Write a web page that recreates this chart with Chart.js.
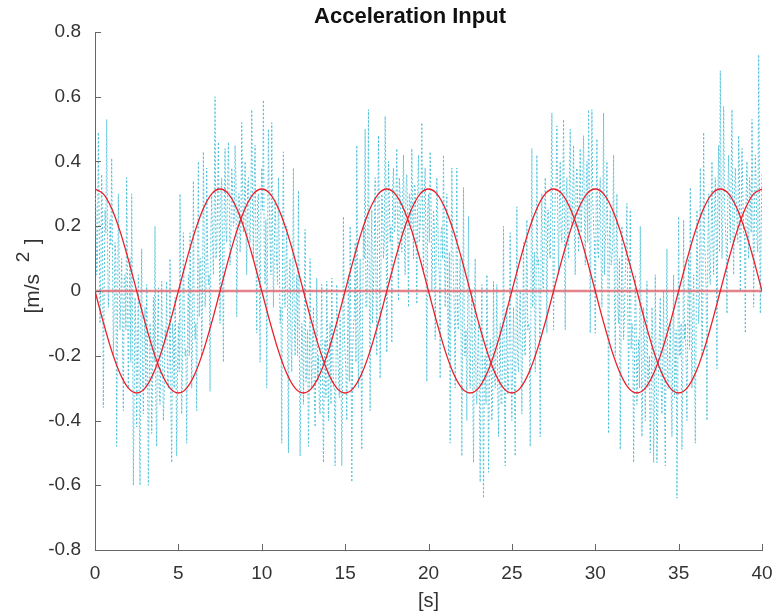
<!DOCTYPE html>
<html>
<head>
<meta charset="utf-8">
<title>Acceleration Input</title>
<script src="https://cdn.jsdelivr.net/npm/chart.js@4.4.1/dist/chart.umd.min.js"></script>
<style>
    html, body { margin: 0; padding: 0; background: #ffffff; }
    #wrap { width: 772px; height: 616px; }
</style>
</head>
<body>
<div id="wrap"><canvas id="accelChart" width="772" height="616"></canvas></div>
<script>
// Sample spacing of the recorded input and of the reference sinusoids [s]
const SAMPLE_DT = 0.05;
const CURVE_DT = 0.5;

// Axis ticks
const xTickValues = [0, 5, 10, 15, 20, 25, 30, 35, 40];
const yTickValues = [-0.8, -0.6, -0.4, -0.2, 0, 0.2, 0.4, 0.6, 0.8];

// Measured (noisy) acceleration input [m/s^2], one row per second
const measuredAccel = [
    0.30, 0.26, 0.05, 0.10, 0.49, 0.22, -0.10, 0.05, 0.36, 0.20, -0.36, 0.00, 0.25, 0.18, 0.53, 0.15, -0.05, 0.02, 0.22, 0.14,
    0.41, 0.12, -0.20, -0.05, 0.15, 0.10, -0.48, -0.10, 0.30, 0.08, -0.12, -0.02, 0.10, -0.15, -0.37, 0.04, 0.05, -0.12, 0.35, 0.00,
    -0.30, -0.05, 0.10, -0.22, 0.30, -0.08, -0.60, -0.30, -0.02, -0.12, -0.42, -0.20, 0.05, -0.35, -0.60, -0.10, 0.13, -0.25, -0.38, -0.15,
    -0.05, -0.30, 0.02, -0.18, -0.60, -0.32, -0.10, -0.15, -0.44, -0.28, -0.02, -0.22, 0.20, -0.35, -0.48, -0.12, 0.01, -0.30, -0.35, -0.20,
    0.03, -0.18, -0.40, -0.32, -0.12, -0.15, 0.03, -0.28, -0.30, -0.22, 0.10, -0.35, -0.53, -0.10, -0.15, -0.30, -0.02, -0.18, -0.51, -0.25,
    -0.10, -0.25, 0.30, -0.10, -0.38, -0.22, 0.18, -0.05, -0.20, -0.18, -0.47, -0.12, 0.05, -0.20, 0.18, -0.02, -0.30, -0.15, 0.34, -0.08,
    -0.15, -0.10, -0.37, 0.05, 0.40, -0.08, 0.10, 0.10, -0.20, -0.02, 0.43, 0.15, -0.05, 0.00, 0.38, 0.12, 0.02, 0.05, -0.31, 0.18,
    0.30, 0.15, 0.05, 0.25, 0.60, 0.10, 0.12, 0.28, 0.46, 0.18, -0.10, 0.30, 0.35, 0.12, -0.22, 0.25, 0.44, 0.20, 0.15, 0.32,
    0.46, 0.28, 0.08, 0.18, 0.38, 0.32, 0.20, 0.22, 0.45, 0.35, -0.08, 0.15, 0.30, 0.30, 0.12, 0.20, 0.52, 0.33, 0.18, 0.25,
    0.40, 0.20, 0.05, 0.32, 0.35, 0.18, 0.15, 0.30, 0.56, 0.25, 0.10, 0.35, 0.45, 0.15, -0.13, 0.28, 0.30, 0.12, -0.22, 0.25,
    0.38, 0.25, 0.59, 0.10, 0.02, 0.22, -0.30, 0.15, 0.50, 0.28, 0.15, 0.05, 0.52, 0.20, -0.05, 0.12, 0.28, 0.18, 0.08, 0.02,
    0.35, 0.12, -0.10, -0.05, -0.47, 0.15, 0.43, -0.02, -0.05, 0.08, 0.20, -0.10, -0.50, 0.05, 0.10, -0.15, -0.25, 0.02, 0.38, -0.08,
    -0.20, -0.05, 0.05, -0.20, 0.31, -0.10, -0.51, -0.25, -0.10, -0.15, -0.35, -0.08, 0.19, -0.28, -0.25, -0.12, -0.48, -0.30, 0.10, -0.18,
    -0.30, -0.15, -0.05, -0.32, -0.42, -0.18, 0.04, -0.28, -0.20, -0.35, -0.38, -0.15, 0.02, -0.30, -0.53, -0.22, -0.15, -0.33, 0.03, -0.18,
    -0.40, -0.20, -0.10, -0.35, 0.04, -0.15, -0.30, -0.30, -0.54, -0.25, 0.02, -0.18, -0.25, -0.33, -0.08, -0.22, -0.54, -0.28, 0.23, -0.12,
    -0.20, -0.25, -0.40, -0.12, 0.05, -0.28, 0.20, -0.15, -0.59, -0.20, -0.10, -0.08, 0.15, -0.22, 0.45, -0.05, -0.30, -0.12, 0.10, -0.18,
    -0.49, -0.08, 0.20, 0.10, 0.50, -0.05, -0.05, 0.12, 0.56, 0.00, -0.37, 0.08, 0.25, -0.10, 0.02, 0.15, 0.35, 0.02, -0.20, 0.18,
    0.48, 0.22, -0.27, 0.08, 0.30, 0.25, 0.10, 0.15, 0.54, 0.30, -0.19, 0.12, 0.40, 0.28, 0.15, 0.20, -0.16, 0.32, 0.38, 0.18,
    0.20, 0.30, 0.44, 0.18, -0.03, 0.35, 0.30, 0.20, 0.12, 0.28, 0.42, 0.15, 0.05, 0.32, 0.36, 0.22, -0.05, 0.30, 0.28, 0.20,
    0.44, 0.25, 0.10, 0.33, 0.32, 0.20, -0.04, 0.30, 0.42, 0.15, 0.20, 0.28, 0.52, 0.22, 0.05, 0.30, 0.38, 0.12, -0.28, 0.25,
    0.30, 0.15, 0.43, 0.28, 0.00, 0.12, 0.25, 0.20, -0.15, 0.08, 0.35, 0.25, 0.10, 0.05, -0.27, 0.18, 0.20, 0.10, 0.42, 0.15,
    -0.05, 0.10, 0.30, -0.05, -0.20, 0.12, -0.47, 0.02, 0.38, 0.15, 0.05, -0.08, -0.30, 0.05, 0.38, -0.10, -0.12, 0.00, 0.10, -0.12,
    -0.51, -0.08, 0.32, -0.20, -0.20, -0.12, -0.40, -0.05, 0.23, -0.25, -0.30, -0.10, 0.00, -0.28, -0.53, -0.15, 0.10, -0.30, -0.35, -0.20,
    -0.10, -0.32, -0.59, -0.18, 0.02, -0.30, -0.64, -0.22, -0.20, -0.35, 0.05, -0.15, -0.56, -0.28, -0.15, -0.20, -0.40, -0.32, 0.03, -0.25,
    -0.30, -0.18, 0.02, -0.30, -0.45, -0.22, -0.10, -0.35, -0.35, -0.15, 0.20, -0.28, -0.54, -0.20, -0.05, -0.32, -0.30, -0.12, 0.18, -0.25,
    -0.40, -0.20, -0.05, -0.28, -0.51, -0.12, 0.26, -0.22, -0.25, -0.08, 0.00, -0.20, -0.38, -0.10, 0.15, -0.18, -0.20, -0.02, 0.22, -0.12,
    -0.10, -0.12, -0.48, 0.05, 0.44, -0.05, 0.05, 0.12, -0.25, 0.00, 0.42, 0.08, 0.10, -0.08, -0.45, 0.15, 0.30, 0.02, 0.00, 0.20,
    0.35, 0.18, -0.13, 0.25, 0.25, 0.12, 0.10, 0.30, 0.55, 0.20, -0.12, 0.15, 0.30, 0.32, 0.51, 0.22, 0.05, 0.28, 0.40, 0.18,
    0.15, 0.30, 0.53, 0.20, -0.12, 0.28, 0.35, 0.15, 0.10, 0.35, 0.50, 0.22, 0.20, 0.30, 0.45, 0.18, 0.05, 0.33, 0.38, 0.25,
    0.12, 0.28, 0.44, 0.18, 0.25, 0.35, 0.48, 0.22, 0.08, 0.30, 0.40, 0.15, 0.56, 0.32, -0.13, 0.25, 0.56, 0.28, 0.20, 0.15,
    -0.13, 0.25, 0.47, 0.12, 0.10, 0.28, 0.35, 0.10, -0.05, 0.22, 0.55, 0.05, 0.15, 0.20, 0.40, 0.15, -0.44, 0.18, 0.25, 0.08,
    0.10, 0.15, 0.42, 0.00, -0.20, 0.12, 0.30, -0.05, -0.10, 0.10, -0.49, -0.12, 0.20, 0.05, -0.15, -0.08, 0.05, 0.12, 0.27, -0.05,
    -0.30, -0.05, 0.25, -0.18, -0.10, -0.12, -0.53, -0.25, 0.05, -0.08, -0.35, -0.22, -0.15, -0.30, 0.20, -0.10, -0.45, -0.28, -0.05, -0.15,
    -0.40, -0.18, 0.03, -0.30, -0.25, -0.20, -0.50, -0.35, -0.05, -0.15, -0.53, -0.32, 0.05, -0.25, -0.53, -0.38, -0.20, -0.12, -0.02, -0.30,
    -0.38, -0.22, 0.00, -0.35, -0.54, -0.15, 0.13, -0.30, -0.30, -0.20, -0.10, -0.28, -0.45, -0.18, 0.05, -0.33, -0.25, -0.12, -0.64, -0.28,
    0.23, -0.20, -0.20, -0.10, -0.49, -0.25, 0.22, -0.15, -0.10, -0.22, -0.40, -0.05, 0.10, -0.18, 0.32, -0.12, -0.30, -0.08, 0.05, -0.20,
    -0.47, -0.10, 0.25, 0.05, -0.10, -0.02, 0.38, 0.10, -0.20, -0.05, 0.49, 0.15, 0.10, 0.00, -0.40, 0.12, 0.30, 0.05, 0.02, 0.18,
    0.40, 0.15, 0.05, 0.25, 0.35, 0.18, -0.24, 0.30, 0.45, 0.12, 0.68, 0.32, 0.10, 0.22, 0.57, 0.28, 0.20, 0.15, -0.07, 0.30,
    0.42, 0.25, 0.15, 0.35, 0.56, 0.20, 0.05, 0.30, 0.38, 0.28, 0.22, 0.15, 0.48, 0.33, 0.00, 0.22, 0.44, 0.30, 0.18, 0.18,
    -0.13, 0.30, 0.40, 0.20, 0.10, 0.35, 0.30, 0.18, 0.53, 0.28, -0.05, 0.25, 0.42, 0.32, 0.15, 0.12, 0.73, 0.30, -0.07, 0.20,
    0.36
];

// Reference input components [m/s^2], every half second
const accelCos = [
    0.315, 0.300, 0.255, 0.185, 0.097, 0, -0.097, -0.185, -0.255, -0.300,
    -0.315, -0.300, -0.255, -0.185, -0.097, 0, 0.097, 0.185, 0.255, 0.300,
    0.315, 0.300, 0.255, 0.185, 0.097, 0, -0.097, -0.185, -0.255, -0.300,
    -0.315, -0.300, -0.255, -0.185, -0.097, 0, 0.097, 0.185, 0.255, 0.300,
    0.315, 0.300, 0.255, 0.185, 0.097, 0, -0.097, -0.185, -0.255, -0.300,
    -0.315, -0.300, -0.255, -0.185, -0.097, 0, 0.097, 0.185, 0.255, 0.300,
    0.315, 0.300, 0.255, 0.185, 0.097, 0, -0.097, -0.185, -0.255, -0.300,
    -0.315, -0.300, -0.255, -0.185, -0.097, 0, 0.097, 0.185, 0.255, 0.300,
    0.315
];
const accelSin = [
    0, -0.097, -0.185, -0.255, -0.300, -0.315, -0.300, -0.255, -0.185, -0.097,
    0, 0.097, 0.185, 0.255, 0.300, 0.315, 0.300, 0.255, 0.185, 0.097,
    0, -0.097, -0.185, -0.255, -0.300, -0.315, -0.300, -0.255, -0.185, -0.097,
    0, 0.097, 0.185, 0.255, 0.300, 0.315, 0.300, 0.255, 0.185, 0.097,
    0, -0.097, -0.185, -0.255, -0.300, -0.315, -0.300, -0.255, -0.185, -0.097,
    0, 0.097, 0.185, 0.255, 0.300, 0.315, 0.300, 0.255, 0.185, 0.097,
    0, -0.097, -0.185, -0.255, -0.300, -0.315, -0.300, -0.255, -0.185, -0.097,
    0, 0.097, 0.185, 0.255, 0.300, 0.315, 0.300, 0.255, 0.185, 0.097,
    0
];

// Vertical component (zero over the whole run)
const accelZTime = [0, 40];
const accelZ = [0, 0];

const FONT_FAMILY = '"Liberation Sans", Arial, Helvetica, sans-serif';
const TEXT_COLOR = '#333333';
const AXIS_COLOR = '#666666';

function toPoints(values, dt) {
    return values.map((v, i) => ({ x: i * dt, y: v }));
}

// Inward tick marks, title and the y label with its superscript
const octaveAxesPlugin = {
    id: 'octaveAxes',
    afterDraw(chart) {
        const ctx = chart.ctx;
        const area = chart.chartArea;
        const xScale = chart.scales.x;
        const yScale = chart.scales.y;
        const tickLen = 6;

        ctx.save();
        ctx.strokeStyle = AXIS_COLOR;
        ctx.lineWidth = 1;
        ctx.beginPath();
        xTickValues.forEach(v => {
            const px = Math.round(xScale.getPixelForValue(v)) + 0.5;
            ctx.moveTo(px, area.bottom);
            ctx.lineTo(px, area.bottom - tickLen);
        });
        yTickValues.forEach(v => {
            const py = Math.round(yScale.getPixelForValue(v)) + 0.5;
            ctx.moveTo(area.left, py);
            ctx.lineTo(area.left + tickLen, py);
        });
        ctx.stroke();

        // title
        ctx.fillStyle = '#111111';
        ctx.font = 'bold 22px ' + FONT_FAMILY;
        ctx.textAlign = 'center';
        ctx.textBaseline = 'alphabetic';
        ctx.fillText('Acceleration Input', 410, 23);

        // y axis label, rotated
        ctx.translate(39, 276);
        ctx.rotate(-Math.PI / 2);
        ctx.fillStyle = TEXT_COLOR;
        ctx.textAlign = 'left';
        ctx.font = '21px ' + FONT_FAMILY;
        const base = '[m/s  ';
        const wBase = ctx.measureText(base).width;
        const wSup = 14;
        const total = wBase + wSup + ctx.measureText(']').width + 4;
        let cx = -total / 2;
        ctx.fillText(base, cx, 0);
        cx += wBase;
        ctx.font = '19px ' + FONT_FAMILY;
        ctx.fillText('2', cx, -10);
        cx += wSup + 4;
        ctx.font = '21px ' + FONT_FAMILY;
        ctx.fillText(']', cx, 0);
        ctx.restore();
    }
};

const ctx = document.getElementById('accelChart').getContext('2d');

new Chart(ctx, {
    type: 'line',
    data: {
        datasets: [
            {
                label: 'a_x',
                data: toPoints(accelCos, CURVE_DT),
                borderColor: '#ea1f2a',
                borderWidth: 1.3,
                cubicInterpolationMode: 'monotone',
                pointRadius: 0,
                order: 0
            },
            {
                label: 'a_y',
                data: toPoints(accelSin, CURVE_DT),
                borderColor: '#ea1f2a',
                borderWidth: 1.3,
                cubicInterpolationMode: 'monotone',
                pointRadius: 0,
                order: 1
            },
            {
                label: 'a_z',
                data: accelZTime.map((t, i) => ({ x: t, y: accelZ[i] })),
                borderColor: 'rgba(222, 110, 120, 0.85)',
                borderWidth: 2.5,
                pointRadius: 0,
                order: 2
            },
            {
                label: 'measured',
                data: toPoints(measuredAccel, SAMPLE_DT),
                borderColor: '#55c3db',
                borderWidth: 1,
                borderDash: [2, 2],
                tension: 0,
                pointRadius: 0,
                order: 3
            }
        ]
    },
    options: {
        responsive: false,
        animation: false,
        devicePixelRatio: 1,
        layout: { padding: { top: 32, right: 10, left: 0, bottom: 0 } },
        plugins: {
            legend: { display: false },
            tooltip: { enabled: false },
            title: { display: false }
        },
        scales: {
            x: {
                type: 'linear',
                min: 0,
                max: 40,
                afterFit: scale => {
                    scale.height = 66;
                    scale.paddingLeft = 0;
                    scale.paddingRight = 0;
                },
                afterBuildTicks: scale => { scale.ticks = xTickValues.map(v => ({ value: v })); },
                grid: { display: true, drawOnChartArea: false, drawTicks: false },
                border: { display: true, color: AXIS_COLOR, width: 1 },
                ticks: {
                    padding: 12,
                    color: TEXT_COLOR,
                    font: { family: FONT_FAMILY, size: 19 },
                    maxRotation: 0,
                    callback: v => String(v)
                },
                title: {
                    display: true,
                    text: '[s]',
                    color: TEXT_COLOR,
                    font: { family: FONT_FAMILY, size: 20 },
                    padding: { top: 0, bottom: 3 }
                }
            },
            y: {
                type: 'linear',
                min: -0.8,
                max: 0.8,
                afterFit: scale => {
                    scale.width = 95;
                    scale.paddingTop = 0;
                    scale.paddingBottom = 0;
                },
                afterBuildTicks: scale => { scale.ticks = yTickValues.map(v => ({ value: v })); },
                grid: { display: true, drawOnChartArea: false, drawTicks: false },
                border: { display: true, color: AXIS_COLOR, width: 1 },
                ticks: {
                    padding: 14,
                    color: TEXT_COLOR,
                    font: { family: FONT_FAMILY, size: 19 },
                    callback: v => String(Math.round(v * 10) / 10)
                }
            }
        }
    },
    plugins: [octaveAxesPlugin]
});
</script>
</body>
</html>
